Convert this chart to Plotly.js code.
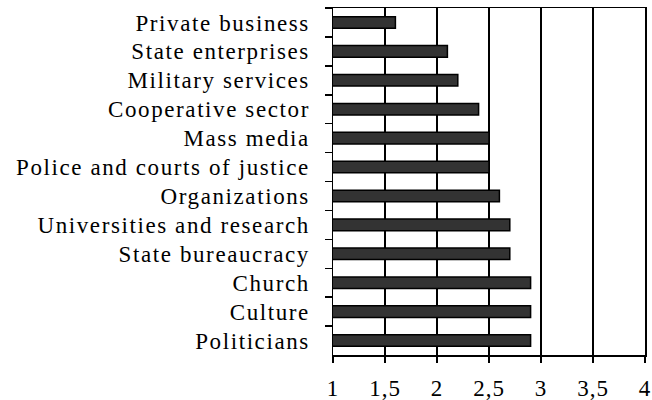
<!DOCTYPE html>
<html>
<head>
<meta charset="utf-8">
<script src="https://cdn.plot.ly/plotly-3.0.1.min.js"></script>
<style>
html,body{margin:0;padding:0;background:#fff;}
#chart{width:652px;height:400px;}
#chart .ytick text{letter-spacing:1.6px;}
#chart .xtick text{letter-spacing:1px;}
</style>
</head>
<body>
<div id="chart"></div>
<script>
const categories = [
  "Private business",
  "State enterprises",
  "Military services",
  "Cooperative sector",
  "Mass media",
  "Police and courts of justice",
  "Organizations",
  "Universities and research",
  "State bureaucracy",
  "Church",
  "Culture",
  "Politicians"
];
const values = [1.6, 2.1, 2.2, 2.4, 2.5, 2.5, 2.6, 2.7, 2.7, 2.9, 2.9, 2.9];
const xTicks = [1, 1.5, 2, 2.5, 3, 3.5, 4];

const trace = {
  type: 'bar',
  orientation: 'h',
  y: categories,
  x: values,
  marker: {color: '#333333', line: {color: '#000000', width: 1.5}},
  hoverinfo: 'none'
};

const font = {family: '"Liberation Serif", "Times New Roman", serif', size: 23, color: '#000'};

const layout = {
  width: 652, height: 400,
  margin: {l: 333, r: 7, t: 8, b: 45},
  paper_bgcolor: '#fff', plot_bgcolor: '#fff',
  separators: ', ',
  showlegend: false,
  bargap: 0.6,
  font: font,
  xaxis: {
    range: [1, 4],
    tickvals: xTicks,
    ticks: 'outside', ticklen: 6, tickwidth: 1.5, tickcolor: '#000',
    showline: true, linecolor: '#000', linewidth: 1.5, mirror: true,
    showgrid: true, gridcolor: '#000', gridwidth: 1.5,
    zeroline: false,
    tickfont: font,
    ticklabelstandoff: 6
  },
  yaxis: {
    type: 'category',
    autorange: 'reversed',
    tickson: 'boundaries',
    ticks: 'outside', ticklen: 7, tickwidth: 1.5, tickcolor: '#000',
    showline: true, linecolor: '#000', linewidth: 1.5, mirror: true,
    showgrid: false, zeroline: false,
    tickfont: font,
    ticklabelstandoff: 17
  }
};

Plotly.newPlot('chart', [trace], layout, {staticPlot: true, displayModeBar: false});
</script>
</body>
</html>
